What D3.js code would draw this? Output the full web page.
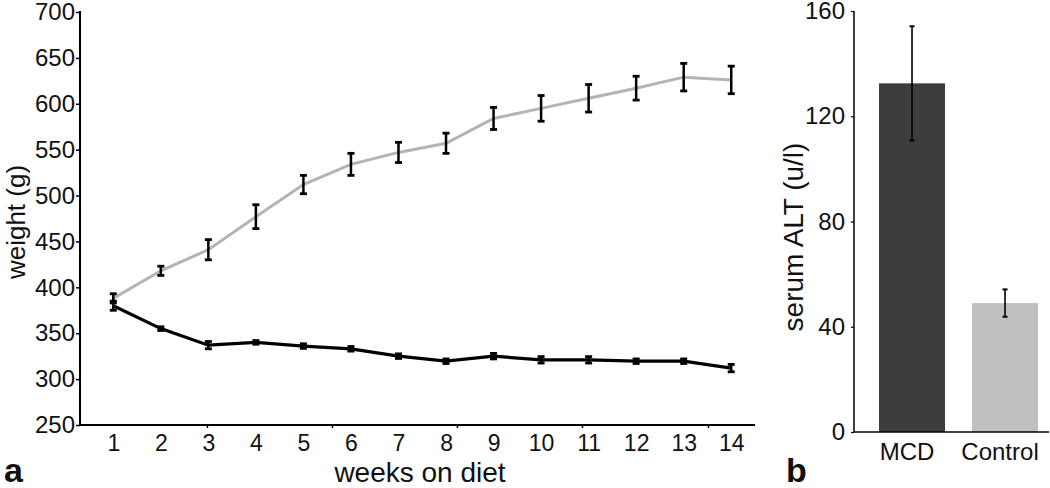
<!DOCTYPE html>
<html>
<head>
<meta charset="utf-8">
<script src="https://cdn.jsdelivr.net/npm/d3@7"></script>
<style>
  html, body { margin: 0; padding: 0; background: #fff; }
  svg { display: block; font-family: "Liberation Sans", Arial, Helvetica, sans-serif; }
</style>
</head>
<body>
<svg id="chart" width="1050" height="488"></svg>
<script>
// ---- data (panel a) ----
const weeks = [1, 2, 3, 4, 5, 6, 7, 8, 9, 10, 11, 12, 13, 14];
const controlWeight = [388, 418, 441, 477, 512, 534, 547, 557, 584, 595, 606, 617, 629, 626];
const controlErr = [5, 5, 11, 13, 10, 12, 11, 11, 12, 14, 15, 13, 15, 15];
const mcdWeight = [380, 355, 337, 340, 336, 333, 325, 319.5, 325, 321, 321, 319.5, 319.5, 312];
const mcdErr = [5, 2, 4, 2, 2.5, 2.5, 2.5, 2.5, 3, 3.5, 3.5, 2.5, 2.5, 4];
const weightTicks = [250, 300, 350, 400, 450, 500, 550, 600, 650, 700];
const xMarkTicks = [2.97, 5.6, 8.23, 10.86, 13.51];

// ---- data (panel b) ----
const groups = ["MCD", "Control"];
const altMean = [132.5, 49];
const altErr = [21.7, 5.2];
const altTicks = [0, 40, 80, 120, 160];

const svg = d3.select("#chart");

// ================= panel a =================
const xA = d3.scaleLinear().domain([0.3, 14.5]).range([80, 755]);
const yA = d3.scaleLinear().domain([250, 700]).range([425, 12]);

const gA = svg.append("g");

// y axis
const yAxisA = gA.append("g").attr("transform", "translate(80,0)")
  .call(d3.axisLeft(yA).tickValues(weightTicks).tickSize(4).tickPadding(1).tickFormat(d3.format("d")));
yAxisA.select(".domain").attr("d", "M0,11V425").attr("stroke", "#000").attr("stroke-width", 2);
yAxisA.selectAll(".tick line").attr("stroke", "#000").attr("stroke-width", 1.5);
yAxisA.selectAll(".tick text").attr("font-size", 24).attr("fill", "#111");
yAxisA.attr("font-family", null);

// x axis line + tick marks
const xAxisMarks = gA.append("g").attr("transform", "translate(0,425)")
  .call(d3.axisBottom(xA).tickValues(xMarkTicks).tickSize(3).tickFormat(""));
xAxisMarks.select(".domain").attr("d", "M80,0H755").attr("stroke", "#000").attr("stroke-width", 2);
xAxisMarks.selectAll(".tick line").attr("stroke", "#000").attr("stroke-width", 1.5);

// x labels at weeks
const xAxisLabels = gA.append("g").attr("transform", "translate(0,425)")
  .call(d3.axisBottom(xA).tickValues(weeks).tickSize(0).tickPadding(10).tickFormat(d3.format("d")));
xAxisLabels.select(".domain").remove();
xAxisLabels.selectAll(".tick text").attr("font-size", 23).attr("fill", "#111");
xAxisLabels.attr("font-family", null);

// lines
const lineGen = d3.line().x(d => xA(d[0])).y(d => yA(d[1]));
gA.append("path")
  .datum(weeks.map((w, i) => [w, controlWeight[i]]))
  .attr("d", lineGen).attr("fill", "none").attr("stroke", "#b4b4b4").attr("stroke-width", 3);
gA.append("path")
  .datum(weeks.map((w, i) => [w, mcdWeight[i]]))
  .attr("d", lineGen).attr("fill", "none").attr("stroke", "#000").attr("stroke-width", 3.2);

// error bars
function errBars(g, means, errs, capHalf, sw, capSw) {
  const eb = g.append("g");
  weeks.forEach((w, i) => {
    const x = xA(w), y0 = yA(means[i] - errs[i]), y1 = yA(means[i] + errs[i]);
    eb.append("line").attr("x1", x).attr("x2", x).attr("y1", y0).attr("y2", y1)
      .attr("stroke", "#000").attr("stroke-width", sw);
    [y0, y1].forEach(y => eb.append("line").attr("x1", x - capHalf).attr("x2", x + capHalf)
      .attr("y1", y).attr("y2", y).attr("stroke", "#000").attr("stroke-width", capSw));
  });
}
errBars(gA, controlWeight, controlErr, 3.5, 2.5, 2.8);
errBars(gA, mcdWeight, mcdErr, 3.5, 2.5, 2.8);

// axis titles
gA.append("text").attr("x", 420).attr("y", 482).attr("text-anchor", "middle")
  .attr("font-size", 28).attr("fill", "#111").text("weeks on diet");
gA.append("text").attr("transform", "translate(25,222) rotate(-90)").attr("text-anchor", "middle")
  .attr("font-size", 26).attr("fill", "#111").text("weight (g)");
gA.append("text").attr("x", 4).attr("y", 482).attr("font-size", 34).attr("font-weight", "bold")
  .attr("fill", "#111").text("a");

// ================= panel b =================
const xB = d3.scaleBand().domain(groups).range([855.75, 1061.3]).paddingInner(0.29).paddingOuter(0.25);
const yB = d3.scaleLinear().domain([0, 160]).range([432, 11]);
const gB = svg.append("g");

const barColors = ["#3d3d3d", "#c0c0c0"];
gB.selectAll("rect.bar").data(groups).enter().append("rect")
  .attr("x", d => xB(d)).attr("width", xB.bandwidth())
  .attr("y", (d, i) => yB(altMean[i])).attr("height", (d, i) => yB(0) - yB(altMean[i]))
  .attr("fill", (d, i) => barColors[i]);

groups.forEach((g, i) => {
  const x = xB(g) + xB.bandwidth() / 2;
  const y0 = yB(altMean[i] - altErr[i]), y1 = yB(altMean[i] + altErr[i]);
  gB.append("line").attr("x1", x).attr("x2", x).attr("y1", y0).attr("y2", y1)
    .attr("stroke", "#000").attr("stroke-width", 1.6);
  [y0, y1].forEach(y => gB.append("line").attr("x1", x - 2.5).attr("x2", x + 2.5)
    .attr("y1", y).attr("y2", y).attr("stroke", "#000").attr("stroke-width", 2));
});

const yAxisB = gB.append("g").attr("transform", "translate(854,0)")
  .call(d3.axisLeft(yB).tickValues(altTicks).tickSize(3).tickPadding(6).tickFormat(d3.format("d")));
yAxisB.select(".domain").attr("d", "M0,11V432").attr("stroke", "#000").attr("stroke-width", 1.5);
yAxisB.selectAll(".tick line").attr("stroke", "#000").attr("stroke-width", 1.2);
yAxisB.selectAll(".tick text").attr("font-size", 24).attr("fill", "#111");
yAxisB.attr("font-family", null);

const xAxisB = gB.append("g").attr("transform", "translate(0,432)")
  .call(d3.axisBottom(xB).tickSize(0).tickPadding(11));
xAxisB.select(".domain").attr("d", "M854,0H1049").attr("stroke", "#000").attr("stroke-width", 1.5);
xAxisB.selectAll(".tick text").attr("font-size", 24).attr("fill", "#111").attr("dx", -5);
xAxisB.attr("font-family", null);

gB.append("text").attr("transform", "translate(803,237) rotate(-90)").attr("text-anchor", "middle")
  .attr("font-size", 28).attr("fill", "#111").text("serum ALT (u/l)");
gB.append("text").attr("x", 786).attr("y", 482).attr("font-size", 34).attr("font-weight", "bold")
  .attr("fill", "#111").text("b");
</script>
</body>
</html>
